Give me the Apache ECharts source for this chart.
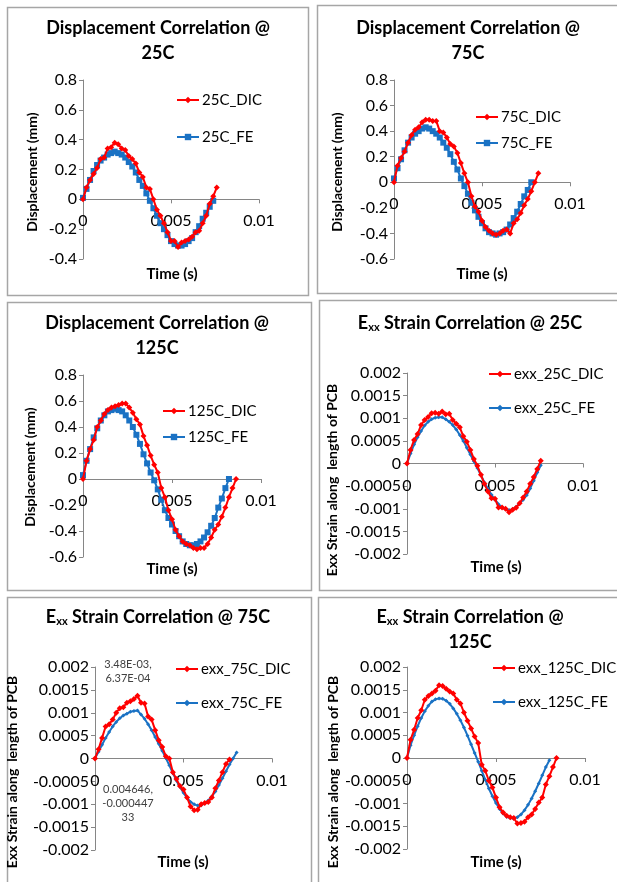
<!DOCTYPE html>
<html><head><meta charset="utf-8">
<script src="https://cdn.jsdelivr.net/npm/echarts@6/dist/echarts.min.js"></script>
<style>html,body{margin:0;padding:0;background:#fff}#c{width:617px;height:882px}</style>
</head><body><div id="c"></div>
<script>
// ---------- DATA ----------
const time = [0,0.0002,0.0004,0.0006,0.0008,0.001,0.0012,0.0014,0.0016,0.0018,0.002,0.0022,0.0024,0.0026,0.0028,0.003,0.0032,0.0034,0.0036,0.0038,0.004,0.0042,0.0044,0.0046,0.0048,0.005,0.0052,0.0054,0.0056,0.0058,0.006,0.0062,0.0064,0.0066,0.0068,0.007,0.0072,0.0074,0.0076,0.0078,0.008,0.0082,0.0084,0.0086];
const xTicks = ['0','0.005','0.01'];

const disp25DIC = [0,0.08,0.13,0.17,0.21,0.27,0.28,0.34,0.35,0.38,0.37,0.34,0.33,0.29,0.27,0.24,0.18,0.15,0.08,0.07,0.0,-0.07,-0.11,-0.16,-0.22,-0.28,-0.28,-0.32,-0.29,-0.28,-0.27,-0.25,-0.22,-0.21,-0.16,-0.11,-0.03,0.02,0.08];
const disp25FE  = [0.01,0.07,0.13,0.19,0.23,0.26,0.28,0.30,0.31,0.32,0.31,0.30,0.28,0.25,0.22,0.18,0.13,0.09,0.04,-0.01,-0.06,-0.11,-0.16,-0.20,-0.24,-0.28,-0.30,-0.31,-0.31,-0.30,-0.28,-0.26,-0.22,-0.18,-0.13,-0.09,-0.05,-0.01];
const disp75DIC = [0,0.13,0.19,0.24,0.31,0.37,0.41,0.43,0.47,0.49,0.49,0.48,0.48,0.40,0.39,0.35,0.30,0.28,0.23,0.15,0.07,0.00,-0.11,-0.19,-0.23,-0.30,-0.35,-0.38,-0.40,-0.41,-0.40,-0.38,-0.37,-0.40,-0.32,-0.29,-0.24,-0.18,-0.13,-0.07,0.00,0.07];
const disp75FE  = [0.03,0.11,0.18,0.25,0.31,0.35,0.38,0.40,0.42,0.43,0.42,0.40,0.38,0.35,0.31,0.27,0.22,0.16,0.10,0.03,-0.03,-0.09,-0.16,-0.22,-0.27,-0.32,-0.36,-0.39,-0.40,-0.41,-0.40,-0.39,-0.37,-0.33,-0.28,-0.23,-0.17,-0.11,-0.06,0.00];
const disp125DIC = [0,0.14,0.23,0.30,0.40,0.45,0.50,0.53,0.55,0.56,0.57,0.58,0.58,0.55,0.51,0.46,0.42,0.33,0.26,0.18,0.11,0.05,-0.07,-0.14,-0.24,-0.31,-0.39,-0.44,-0.48,-0.50,-0.51,-0.53,-0.54,-0.53,-0.53,-0.50,-0.45,-0.39,-0.35,-0.29,-0.22,-0.14,-0.07,0.00];
const disp125FE  = [0.03,0.14,0.23,0.32,0.39,0.45,0.49,0.52,0.53,0.54,0.53,0.52,0.49,0.45,0.40,0.34,0.27,0.19,0.12,0.05,-0.01,-0.08,-0.16,-0.24,-0.30,-0.35,-0.40,-0.44,-0.48,-0.50,-0.51,-0.51,-0.50,-0.48,-0.45,-0.41,-0.36,-0.30,-0.22,-0.15,-0.07,0.00];
const exx25DIC = [0,0.00030,0.00052,0.00065,0.00085,0.00096,0.00103,0.00111,0.00112,0.00110,0.00115,0.00109,0.00110,0.00096,0.00088,0.00080,0.00060,0.00048,0.00030,0.00010,-0.00005,-0.00025,-0.00045,-0.00062,-0.00077,-0.00078,-0.00097,-0.00097,-0.00100,-0.00108,-0.00102,-0.00098,-0.00088,-0.00075,-0.00062,-0.00045,-0.00030,-0.00012,0.00006];
const exx25FE  = [0,0.00022,0.00042,0.00058,0.00072,0.00084,0.00092,0.00098,0.00101,0.00102,0.00102,0.00098,0.00092,0.00085,0.00075,0.00063,0.00050,0.00035,0.00020,0.00005,-0.00010,-0.00026,-0.00042,-0.00056,-0.00069,-0.00080,-0.00090,-0.00097,-0.00101,-0.00103,-0.00101,-0.00096,-0.00088,-0.00080,-0.00070,-0.00055,-0.00038,-0.00020,-0.00004];
const exx75DIC = [0,0.00020,0.00045,0.00070,0.00075,0.00085,0.00100,0.00110,0.00112,0.00122,0.00125,0.00130,0.00137,0.00122,0.00120,0.00092,0.00085,0.00062,0.00040,0.00025,0.00005,0.00000,-0.00030,-0.00045,-0.00060,-0.00068,-0.00085,-0.00105,-0.00113,-0.00112,-0.00100,-0.00097,-0.00095,-0.00085,-0.00065,-0.00048,-0.00030,-0.00012,-0.00002];
const exx75FE  = [0,0.00015,0.00030,0.00045,0.00058,0.00070,0.00080,0.00088,0.00094,0.00098,0.00102,0.00104,0.00105,0.00096,0.00087,0.00075,0.00062,0.00047,0.00032,0.00017,0.00001,-0.00015,-0.00032,-0.00048,-0.00062,-0.00075,-0.00086,-0.00095,-0.00100,-0.00103,-0.00102,-0.00098,-0.00092,-0.00083,-0.00072,-0.00058,-0.00043,-0.00028,-0.00013,0.00000,0.00013];
const exx125DIC = [0,0.00040,0.00062,0.00088,0.00105,0.00128,0.00136,0.00142,0.00148,0.00160,0.00158,0.00152,0.00146,0.00142,0.00128,0.00120,0.00100,0.00082,0.00065,0.00047,0.00033,-0.00015,-0.00028,-0.00050,-0.00065,-0.00087,-0.00108,-0.00120,-0.00127,-0.00130,-0.00132,-0.00144,-0.00143,-0.00140,-0.00130,-0.00124,-0.00112,-0.00098,-0.00087,-0.00058,-0.00040,-0.00020,0.00000];
const exx125FE  = [0,0.00028,0.00050,0.00070,0.00088,0.00103,0.00115,0.00124,0.00129,0.00131,0.00130,0.00126,0.00119,0.00109,0.00097,0.00083,0.00067,0.00049,0.00030,0.00011,-0.00008,-0.00028,-0.00048,-0.00067,-0.00084,-0.00099,-0.00112,-0.00122,-0.00129,-0.00132,-0.00133,-0.00130,-0.00124,-0.00115,-0.00103,-0.00089,-0.00073,-0.00056,-0.00038,-0.00020,-0.00005];

const dataLabel1 = '3.48E-03,\n6.37E-04';
const dataLabel2 = '0.004646,\n-0.000447\n33';

// ---------- LAYOUT ----------
const FONT = 'Lato';
const RED = '#ff0000', BLUE = '#1a72c4';
const panels = [
  {box:[7,7,301,288], grid:[83,80,176,179], y:[-0.4,0.8,0.2], dec:1,
   title:['Displacement Correlation @','25C'], tc:[158,28], exx:false,
   yname:'Displacement (mm)', yn:[32,172], tn:[172,274],
   names:['25C_DIC','25C_FE'], vals:[disp25DIC,disp25FE], lg:[176,100,137], feSym:'rect'},
  {box:[317,5,310,288], grid:[394,80,176,179], y:[-0.6,0.8,0.2], dec:1,
   title:['Displacement Correlation @','75C'], tc:[468,28], exx:false,
   yname:'Displacement (mm)', yn:[337,172], tn:[482,274],
   names:['75C_DIC','75C_FE'], vals:[disp75DIC,disp75FE], lg:[475,117,143], feSym:'rect'},
  {box:[7,302,304,288], grid:[83,375,178,182], y:[-0.6,0.8,0.2], dec:1,
   title:['Displacement Correlation @','125C'], tc:[157,323], exx:false,
   yname:'Displacement (mm)', yn:[30,467], tn:[172,569],
   names:['125C_DIC','125C_FE'], vals:[disp125DIC,disp125FE], lg:[162,411,437], feSym:'rect'},
  {box:[319,300,310,290], grid:[407,373,176,181], y:[-0.002,0.002,0.0005], dec:4,
   title:[' Strain Correlation @ 25C'], tc:[470,323], exx:true,
   yname:'Exx Strain along  length of PCB', yn:[332,480], tn:[496,567],
   names:['exx_25C_DIC','exx_25C_FE'], vals:[exx25DIC,exx25FE], lg:[488,374,408], feSym:'diamond'},
  {box:[7,597,304,300], grid:[95,667,177,183], y:[-0.002,0.002,0.0005], dec:4,
   title:[' Strain Correlation @ 75C'], tc:[158,617], exx:true,
   yname:'Exx Strain along  length of PCB', yn:[12,772], tn:[183,862],
   names:['exx_75C_DIC','exx_75C_FE'], vals:[exx75DIC,exx75FE], lg:[175,669,703], feSym:'diamond'},
  {box:[318,597,310,300], grid:[407,667,178,182], y:[-0.002,0.002,0.0005], dec:4,
   title:[' Strain Correlation @','125C'], tc:[470,617], exx:true,
   yname:'Exx Strain along  length of PCB', yn:[333,772], tn:[496,862],
   names:['exx_125C_DIC','exx_125C_FE'], vals:[exx125DIC,exx125FE], lg:[492,668,702], feSym:'diamond'}
];

const grids = [], xAxes = [], yAxes = [], series = [], legends = [], graphics = [];
const TITLE_FS = 18, LINE_H = 25, TICK_FS = 16;

panels.forEach((p, i) => {
  graphics.push({type:'rect', shape:{x:p.box[0]+0.5,y:p.box[1]+0.5,width:p.box[2],height:p.box[3]},
    style:{fill:'none', stroke:'#a6a6a6', lineWidth:1.5}, z:0});
  grids.push({left:p.grid[0], top:p.grid[1], width:p.grid[2], height:p.grid[3], containLabel:false});
  // x axis crosses the value axis at 0 (Excel style): shift it up from the grid bottom
  const zeroOffset = -p.grid[3] * (0 - p.y[0]) / (p.y[1] - p.y[0]);
  xAxes.push({type:'value', gridIndex:i, min:0, max:0.01, interval:0.005, position:'bottom',
    offset: zeroOffset,
    axisLine:{onZero:false, lineStyle:{color:'#868686', width:1}},
    axisTick:{show:true, length:4, lineStyle:{color:'#868686'}},
    splitLine:{show:false},
    axisLabel:{margin:14, fontFamily:FONT, fontSize:TICK_FS, color:'#000',
      formatter:(v)=> xTicks[Math.round(v/0.005)]}});
  yAxes.push({type:'value', gridIndex:i, min:p.y[0], max:p.y[1], interval:p.y[2],
    axisLine:{show:true, onZero:false, lineStyle:{color:'#868686', width:1}},
    axisTick:{show:true, length:4, lineStyle:{color:'#868686'}},
    splitLine:{show:false},
    axisLabel:{margin:6, fontFamily:FONT, fontSize:TICK_FS, color:'#000',
      formatter:(v)=> String(parseFloat(v.toFixed(p.dec)))}});
  const isExx = p.exx;
  [0,1].forEach(k => {
    const vals = p.vals[k];
    series.push({type:'line', name:p.names[k], xAxisIndex:i, yAxisIndex:i,
      data: vals.map((v,j)=>[time[j], v]),
      lineStyle:{color:k?BLUE:RED, width:2},
      itemStyle:{color:k?BLUE:RED},
      symbol: k ? p.feSym : 'diamond',
      symbolSize: k ? (isExx?4:6) : 6,
      showSymbol:true, smooth:false, clip:false, z:k?2:3});
  });
  legends.push({orient:'vertical', left:p.lg[0], top:p.lg[1]-8, padding:0,
    itemGap:(p.lg[2]-p.lg[1])-16, itemWidth:22, itemHeight:8,
    data:p.names, selectedMode:false,
    textStyle:{fontFamily:FONT, fontSize:15, color:'#000', lineHeight:16, padding:[0,0,0,-2]}});

  // title
  if (!isExx) {
    graphics.push({type:'text', x:p.tc[0], y:p.tc[1]-LINE_H/2,
      style:{text:p.title.join('\n'), font:'bold '+TITLE_FS+'px '+FONT, fill:'#000',
        align:'center', verticalAlign:'top', lineHeight:LINE_H}});
  } else {
    let txt = '{b|E}{s|xx}{b|'+p.title[0]+'}';
    if (p.title.length>1) txt += '\n{b|'+p.title[1]+'}';
    graphics.push({type:'text', x:p.tc[0], y:p.tc[1]-LINE_H/2,
      style:{text:txt, align:'center', verticalAlign:'top', fill:'#000',
        rich:{b:{fontFamily:FONT, fontWeight:'bold', fontSize:TITLE_FS, lineHeight:LINE_H, fill:'#000'},
              s:{fontFamily:FONT, fontWeight:'bold', fontSize:11, lineHeight:LINE_H, padding:[9,0,0,0], fill:'#000'}}}});
  }
  // y axis name
  graphics.push({type:'text', x:p.yn[0], y:p.yn[1], rotation:Math.PI/2,
    style:{text:p.yname, font:'bold 14px '+FONT, fill:'#000', align:'center', verticalAlign:'middle'}});
  // x axis name
  graphics.push({type:'text', x:p.tn[0], y:p.tn[1],
    style:{text:'Time (s)', font:'bold 15px '+FONT, fill:'#000', align:'center', verticalAlign:'middle'}});
});

graphics.push({type:'text', x:128, y:671, style:{text:dataLabel1, font:'11px '+FONT, fill:'#404040', align:'center', verticalAlign:'middle', lineHeight:14}});
graphics.push({type:'text', x:128, y:803, style:{text:dataLabel2, font:'11px '+FONT, fill:'#404040', align:'center', verticalAlign:'middle', lineHeight:14}});

const chart = echarts.init(document.getElementById('c'), null, {renderer:'canvas'});
chart.setOption({
  animation:false, backgroundColor:'#fff',
  grid:grids, xAxis:xAxes, yAxis:yAxes, series:series, legend:legends,
  graphic:{elements:graphics}
});
</script></body></html>
